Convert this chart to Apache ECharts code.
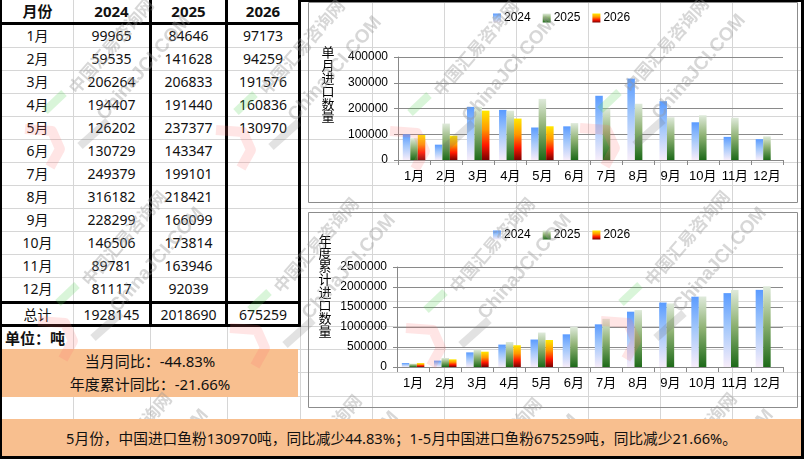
<!DOCTYPE html>
<html>
<head>
<meta charset="utf-8">
<script src="https://cdn.jsdelivr.net/npm/echarts@6/dist/echarts.min.js"></script>
<style>
body { margin: 0; }
#page { position: relative; width: 804px; height: 459px; background: #fff; overflow: hidden;
        font-family: "Noto Sans", "Noto Sans CJK SC", sans-serif; color: #111; }
.ln { position: absolute; background: #d6d6d6; }
.bk { position: absolute; background: #000; }
.cell { position: absolute; display: flex; align-items: center; justify-content: center;
        font-size: 14px; line-height: 1; white-space: nowrap; }
</style>
</head>
<body>
<div id="page">
  <div id="bg"></div>
  <div id="tbl"></div>
  <div id="chart" style="position:absolute;left:0;top:0;width:804px;height:459px;z-index:2"></div>
  <div id="band" style="position:absolute;left:2px;top:419px;width:799px;height:37px;background:#f8bf8f;z-index:3;
       display:flex;align-items:center;justify-content:center;font-size:14.7px;white-space:nowrap"></div>
</div>
<script>
// 数据 (吨)
var months = ['1月', '2月', '3月', '4月', '5月', '6月', '7月', '8月', '9月', '10月', '11月', '12月'];
var years = ['2024', '2025', '2026'];
var imp2024 = [99965, 59535, 206264, 194407, 126202, 130729, 249379, 316182, 228299, 146506, 89781, 81117];
var imp2025 = [84646, 141628, 206833, 191440, 237377, 143347, 199101, 218421, 166099, 173814, 163946, 92039];
var imp2026 = [97173, 94259, 191576, 160836, 130970];
// 年度累计
var cum2024 = [99965, 159500, 365764, 560171, 686373, 817102, 1066481, 1382663, 1610962, 1757468, 1847249, 1928366];
var cum2025 = [84646, 226274, 433107, 624547, 861924, 1005271, 1204372, 1422793, 1588892, 1762706, 1926652, 2018691];
var cum2026 = [97173, 191432, 383008, 543844, 674814];
var totals = ['1928145', '2018690', '675259'];
var yoyMonth = '-44.83%';
var yoyYear = '-21.66%';
var summary = '5月份，中国进口鱼粉130970吨，同比减少44.83%；1-5月中国进口鱼粉675259吨，同比减少21.66%。';

var page = document.getElementById('page');
var bg = document.getElementById('bg');
var tbl = document.getElementById('tbl');

function box(parent, cls, l, t, w, h, css) {
    var d = document.createElement('div');
    d.className = cls;
    d.style.left = l + 'px'; d.style.top = t + 'px';
    d.style.width = w + 'px'; d.style.height = h + 'px';
    if (css) d.style.cssText += css;
    parent.appendChild(d);
    return d;
}

// 表格背景网格线
[73, 150, 227, 300, 372, 444, 516, 588, 660, 732].forEach(function (x) { box(bg, 'ln', x, 0, 1, 459); });
[47, 70, 93, 116, 139, 162, 185, 208, 231, 254, 277, 301, 326, 349, 372, 396, 419, 442].forEach(function (y) {
    box(bg, 'ln', 0, y, 804, 1);
});

// 表格
var colL = [2, 74, 152, 228];
var colW = [71, 75, 73, 70];
function cell(text, c, top, h, css) {
    var d = box(tbl, 'cell', colL[c], top, colW[c], h, css);
    d.textContent = text;
}
cell('月份', 0, 0, 23, 'font-weight:bold;font-size:15px');
years.forEach(function (y, i) { cell(y, i + 1, 0, 23, 'font-weight:bold;font-size:15px'); });
var cols = [imp2024, imp2025, imp2026];
months.forEach(function (m, i) {
    var top = 24 + 23 * i;
    cell(m, 0, top, 23);
    cols.forEach(function (arr, c) {
        if (arr[i] !== undefined) cell(String(arr[i]), c + 1, top, 23);
    });
});
cell('总计', 0, 304, 21);
totals.forEach(function (t, c) { cell(t, c + 1, 304, 21); });

var unit = box(tbl, 'cell', 5, 328, 120, 21, 'justify-content:flex-start;font-weight:bold;font-size:15px');
unit.textContent = '单位：吨';

var ob = box(tbl, 'cell', 2, 349, 296, 48, 'background:#f8bf8f;flex-direction:column;font-size:15px;line-height:23px');
ob.innerHTML = '<div>当月同比：' + yoyMonth + '</div><div>年度累计同比：' + yoyYear + '</div>';

// 粗边框
box(tbl, 'bk', 0, 0, 2, 459);
box(tbl, 'bk', 0, 22, 300, 3);
box(tbl, 'bk', 149, 0, 3, 327);
box(tbl, 'bk', 225, 0, 3, 327);
box(tbl, 'bk', 298, 0, 3, 327);
box(tbl, 'bk', 0, 301, 300, 3);
box(tbl, 'bk', 0, 324, 300, 3);
box(tbl, 'bk', 300, 0, 504, 2);
box(tbl, 'bk', 801, 0, 3, 459, 'z-index:4');
box(tbl, 'bk', 0, 456, 804, 3, 'z-index:4');

document.getElementById('band').textContent = summary;

// 图表
var chart = echarts.init(document.getElementById('chart'));

function grad(stops) {
    return new echarts.graphic.LinearGradient(0, 0, 0, 1, stops.map(function (s) {
        return { offset: s[0], color: s[1] };
    }));
}
var fill2024 = grad([[0, '#5a9bff'], [0.45, '#a2c7fb'], [1, '#f7edfa']]);
var fill2025 = grad([[0, '#dfeadb'], [0.45, '#8fb274'], [1, '#1d6a19']]);
var fill2026 = grad([[0, '#ffe800'], [0.38, '#ff9800'], [0.7, '#ff1800'], [1, '#780000']]);
var fills = [fill2024, fill2025, fill2026];

var font = '"Liberation Sans", "Noto Sans CJK SC", sans-serif';

function xAx(gi) {
    return {
        gridIndex: gi, type: 'category', data: months,
        axisLine: { lineStyle: { color: '#888' } },
        axisTick: { show: true, interval: 0, length: 5, lineStyle: { color: '#888' } },
        axisLabel: { interval: 0, color: '#000', fontSize: 13, margin: 10, fontFamily: font }
    };
}
function yAx(gi, max, step) {
    return {
        gridIndex: gi, type: 'value', min: 0, max: max, interval: step,
        axisLine: { show: true, lineStyle: { color: '#888' } },
        axisTick: { show: true, length: 4, lineStyle: { color: '#888' } },
        splitLine: { lineStyle: { color: '#8a8a8a' } },
        axisLabel: { color: '#000', fontSize: 12, margin: 10, fontFamily: font,
            formatter: function (v) { return String(v); } }
    };
}
function legend(top) {
    return {
        data: years, left: 493, top: top, icon: 'rect', padding: 0,
        itemWidth: 8, itemHeight: 9, itemGap: 12,
        textStyle: { fontSize: 12, color: '#000', fontFamily: font, padding: [0, 0, 0, -2] }
    };
}
function barSeries(gi, arrs) {
    return arrs.map(function (arr, i) {
        return {
            name: years[i], type: 'bar', xAxisIndex: gi, yAxisIndex: gi,
            data: arr, barWidth: 7.5, barGap: '0%',
            itemStyle: { color: fills[i] }
        };
    });
}

var graphics = [
    { type: 'rect', shape: { x: 308.5, y: 2.5, width: 489, height: 200 }, style: { fill: null, stroke: '#8c8c8c', lineWidth: 1 } },
    { type: 'rect', shape: { x: 308.5, y: 212.5, width: 489, height: 195 }, style: { fill: null, stroke: '#8c8c8c', lineWidth: 1 } },
    { type: 'text', x: 328, y: 46, style: { text: '单\n月\n进\n口\n数\n量', align: 'center', verticalAlign: 'top',
        fontSize: 13, lineHeight: 12.8, fontFamily: '"Noto Sans CJK SC"', fill: '#000' } },
    { type: 'text', x: 325, y: 234, style: { text: '年\n度\n累\n计\n进\n口\n数\n量', align: 'center', verticalAlign: 'top',
        fontSize: 13, lineHeight: 12.9, fontFamily: '"Noto Sans CJK SC"', fill: '#000' } }
];

// 水印
var rot = 49 * Math.PI / 180;
[[72, 91], [263, 92], [437, 93], [627, 90], [85, 283], [277, 290], [453, 290], [648, 283],
 [90, 485], [280, 487], [460, 490], [655, 485]].forEach(function (s) {
    var sx = s[0], sy = s[1];
    graphics.push({ type: 'polyline', z: 90, shape: { points: [[sx - 47, sy + 38], [sx - 20, sy + 40], [sx - 12, sy + 58], [sx - 22, sy + 76]] },
        style: { stroke: 'rgba(255,110,110,0.18)', lineWidth: 10, fill: null, lineJoin: 'round' } });
    graphics.push({ type: 'line', z: 90, shape: { x1: sx - 27, y1: sy + 20, x2: sx - 8, y2: sy + 2 },
        style: { stroke: 'rgba(80,210,80,0.22)', lineWidth: 8 } });
    graphics.push({ type: 'line', z: 90, shape: { x1: sx + 8, y1: sy + 55, x2: sx + 36, y2: sy + 30 },
        style: { stroke: 'rgba(110,110,110,0.2)', lineWidth: 8 } });
    graphics.push({ type: 'text', z: 100, x: sx + 39, y: sy - 45, rotation: rot,
        style: { text: '中国汇易咨询网', align: 'center', verticalAlign: 'middle', fontSize: 17, fontWeight: 'bold',
            fontFamily: '"Noto Sans CJK SC"', fill: 'rgba(150,150,150,0.38)' } });
    graphics.push({ type: 'text', z: 100, x: sx + 72, y: sy - 23, rotation: rot,
        style: { text: 'ChinaJCI.COM', align: 'center', verticalAlign: 'middle', fontSize: 19, fontWeight: 'bold',
            fontFamily: '"Liberation Sans"', fill: 'rgba(150,150,150,0.38)' } });
});

var option = {
    animation: false,
    backgroundColor: 'transparent',
    legend: [legend(12), legend(229)],
    grid: [
        { left: 398, top: 57, width: 385, height: 103 },
        { left: 397, top: 267, width: 386, height: 100 }
    ],
    xAxis: [xAx(0), xAx(1)],
    yAxis: [yAx(0, 400000, 100000), yAx(1, 2500000, 500000)],
    series: barSeries(0, [imp2024, imp2025, imp2026]).concat(barSeries(1, [cum2024, cum2025, cum2026])),
    graphic: graphics
};
chart.setOption(option);
</script>
</body>
</html>
